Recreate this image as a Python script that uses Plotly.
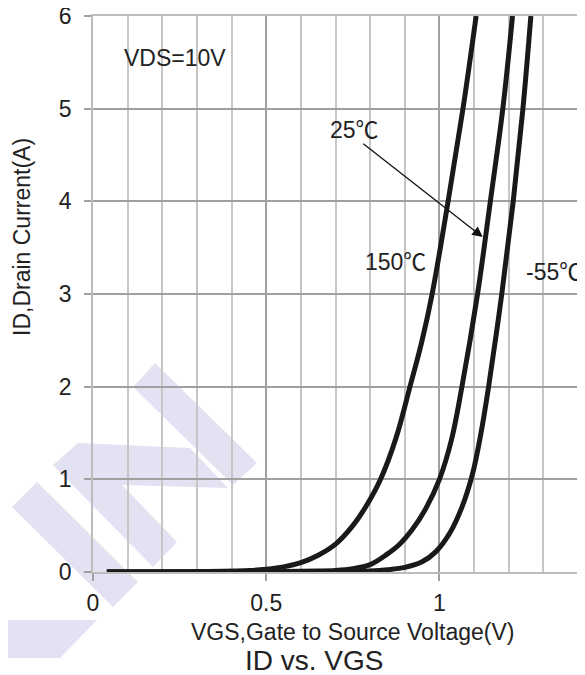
import plotly.graph_objects as go

# ---- data ----
vgs_150 = [0.04, 0.30, 0.45, 0.50, 0.55, 0.60, 0.65, 0.70, 0.75, 0.79, 0.83, 0.875, 0.915, 0.95, 0.979, 1.025, 1.068, 1.106]
id_150 = [0.0, 0.003, 0.015, 0.03, 0.055, 0.10, 0.18, 0.30, 0.50, 0.72, 1.0, 1.45, 2.0, 2.5, 3.0, 4.0, 5.0, 6.0]

vgs_25 = [0.04, 0.50, 0.65, 0.70, 0.75, 0.80, 0.848, 0.885, 0.92, 0.96, 1.00, 1.035, 1.065, 1.11, 1.147, 1.183, 1.211]
id_25 = [0.0, 0.003, 0.010, 0.016, 0.035, 0.08, 0.19, 0.30, 0.45, 0.68, 1.0, 1.43, 2.0, 3.0, 4.0, 5.0, 6.0]

vgs_m55 = [0.04, 0.60, 0.75, 0.80, 0.85, 0.90, 0.95, 0.99, 1.03, 1.065, 1.095, 1.12, 1.142, 1.18, 1.213, 1.241, 1.264]
id_m55 = [0.0, 0.003, 0.008, 0.012, 0.025, 0.05, 0.11, 0.22, 0.42, 0.70, 1.05, 1.5, 2.0, 3.0, 4.0, 5.0, 6.0]

series = [(vgs_150, id_150, "150℃"), (vgs_25, id_25, "25℃"), (vgs_m55, id_m55, "-55℃")]

# ---- layout geometry (page body has an 8px default margin) ----
OFF = 8
W, H = 585 - OFF, 675 - OFF
ML, MR, MT, MB = 93 - OFF, 7, 16 - OFF, 103
PW, PH = W - ML - MR, H - MT - MB


def paper(px, py):
    """page pixel -> paper coordinates"""
    return (px - OFF - ML) / PW, (H - MB - (py - OFF)) / PH


FONT = "Liberation Sans, Arial, Helvetica, sans-serif"
FONT_C = "Liberation Sans, Noto Sans CJK SC, Arial, sans-serif"
TXT = "#222222"
FS = 23

fig = go.Figure()
for x, y, name in series:
    fig.add_trace(go.Scatter(
        x=x, y=y, mode="lines", name=name, showlegend=False, hoverinfo="skip",
        line=dict(color="#1b1818", width=5, shape="spline", smoothing=1.0),
    ))

# ---- watermark decoration (page-pixel polygons) ----
watermark = [
    [(133, 387), (155, 363), (257, 463), (233, 485)],
    [(53, 465), (78, 443), (190, 448), (228, 488), (122, 485), (177, 542), (153, 567)],
    [(37, 482), (12, 507), (113, 607), (138, 582)],
    [(0, 518), (4, 520), (4, 620), (97, 620), (60, 658), (0, 658)],
]
shapes = []
for poly in watermark:
    pts = [paper(px, py) for px, py in poly]
    path = "M " + " L ".join(f"{a:.4f},{b:.4f}" for a, b in pts) + " Z"
    shapes.append(dict(type="path", xref="paper", yref="paper", path=path,
                       fillcolor="#e2e2f2", line=dict(width=0), layer="below"))


def label(x, y, text, ref="x", size=FS, angle=0, family=FONT):
    return dict(x=x, y=y, xref=ref if ref == "paper" else "x", yref=ref if ref == "paper" else "y",
                text=text, showarrow=False, xanchor="center", yanchor="middle",
                textangle=angle, font=dict(size=size, color=TXT, family=family))


annotations = [
    label(0.237, 5.55, "VDS=10V"),
    label(0.756, 4.77, "25℃", family=FONT_C),
    label(0.872, 3.34, "150℃", family=FONT_C),
    label(1.330, 3.24, "-55℃", family=FONT_C),
    dict(x=1.125, y=3.614, xref="x", yref="y", ax=0.776, ay=4.634, axref="x", ayref="y",
         text="", showarrow=True, arrowhead=2, arrowsize=1.6, arrowwidth=1.3,
         arrowcolor="#111111", standoff=0),
]
annotations.append(label(*paper(22, 237), "ID,Drain Current(A)", ref="paper", angle=-90))
annotations.append(label(*paper(352, 632), "VGS,Gate to Source Voltage(V)", ref="paper"))
annotations.append(label(*paper(314, 660), "ID vs. VGS", ref="paper", size=28))

axis_common = dict(
    ticks="outside", ticklen=7, tickwidth=1.5, tickcolor="#a0a0a0",
    showgrid=True, gridcolor="#a0a0a0", gridwidth=1.5,
    zeroline=False, showline=True, mirror=True, linecolor="#bcbcbc", linewidth=1.5,
    tickfont=dict(size=FS, color=TXT, family=FONT), automargin=False,
    ticklabeloverflow="allow",
)

fig.update_layout(
    width=W, height=H,
    margin=dict(l=ML, r=MR, t=MT, b=MB, pad=0, autoexpand=False),
    paper_bgcolor="white", plot_bgcolor="rgba(0,0,0,0)",
    shapes=shapes, annotations=annotations, showlegend=False,
    xaxis=dict(range=[0, 1.4], tickmode="linear", tick0=0, dtick=0.5,
               minor=dict(dtick=0.1, tick0=0, showgrid=True, gridcolor="#c6c6c6", gridwidth=1.5),
               ticklabelstandoff=3, **axis_common),
    yaxis=dict(range=[0, 6], tickmode="linear", tick0=0, dtick=1,
               ticklabelstandoff=8, **axis_common),
)

fig.write_html("out.html")
